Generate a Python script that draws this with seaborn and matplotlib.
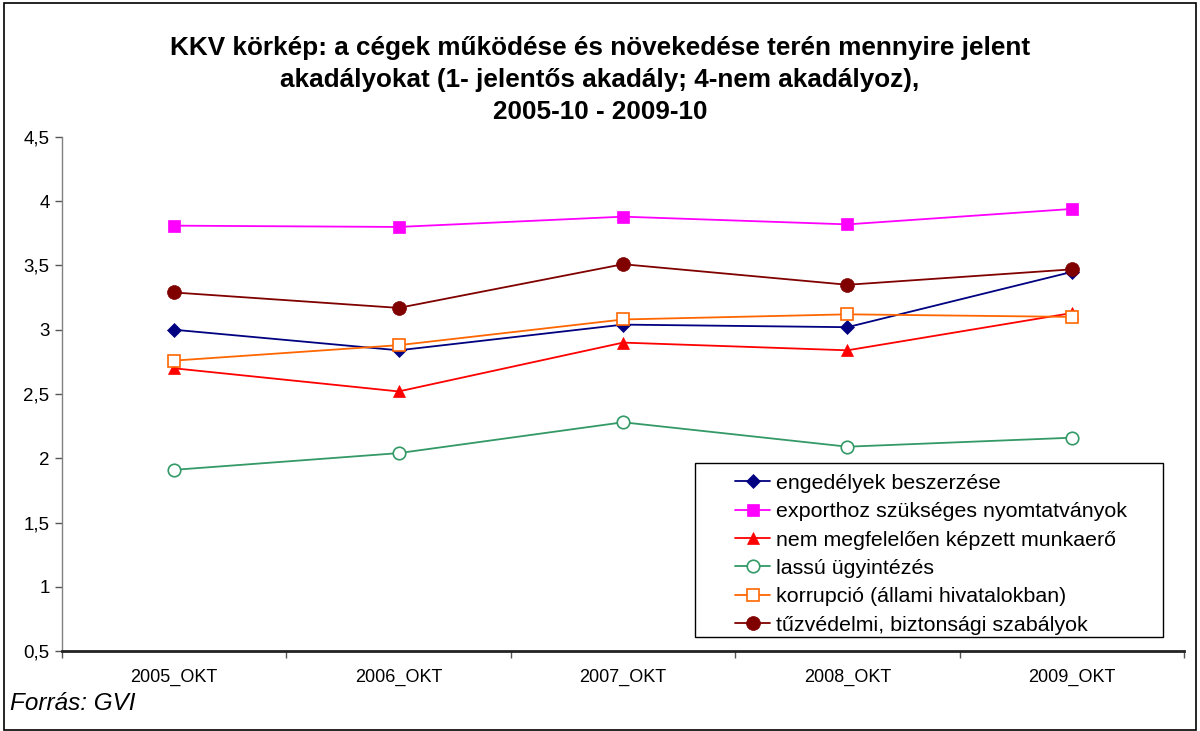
import matplotlib
matplotlib.use("Agg")
import matplotlib.pyplot as plt
import seaborn as sns
import pandas as pd
from matplotlib.patches import Rectangle
from matplotlib.ticker import FixedLocator, FuncFormatter

years = ['2005_OKT', '2006_OKT', '2007_OKT', '2008_OKT', '2009_OKT']

engedelyek = [3.00, 2.84, 3.04, 3.02, 3.45]
export = [3.81, 3.80, 3.88, 3.82, 3.94]
munkaero = [2.70, 2.52, 2.90, 2.84, 3.13]
lassu = [1.91, 2.04, 2.28, 2.09, 2.16]
korrupcio = [2.76, 2.88, 3.08, 3.12, 3.10]
tuzvedelmi = [3.29, 3.17, 3.51, 3.35, 3.47]

series = [
    ('engedélyek beszerzése', engedelyek, '#000080', 'D', True, 7),
    ('exporthoz szükséges nyomtatványok', export, '#FF00FF', 's', True, 8),
    ('nem megfelelően képzett munkaerő', munkaero, '#FF0000', '^', True, 9),
    ('lassú ügyintézés', lassu, '#339966', 'o', False, 9),
    ('korrupció (állami hivatalokban)', korrupcio, '#FF6600', 's', False, 9),
    ('tűzvédelmi, biztonsági szabályok', tuzvedelmi, '#800000', 'o', True, 10),
]

sns.set_theme(style="white")
plt.rcParams['font.family'] = ['Liberation Sans', 'DejaVu Sans']
plt.rcParams['text.color'] = 'black'

fig = plt.figure(figsize=(12, 7.31), dpi=100)
ax = fig.add_axes([0.0517, 0.1094, 0.935, 0.7032])

for name, vals, color, marker, filled, ms in series:
    df = pd.DataFrame({'x': range(len(years)), 'y': vals})
    sns.lineplot(data=df, x='x', y='y', ax=ax, color=color, linewidth=1.3,
                 marker=marker, markersize=ms,
                 markerfacecolor=color if filled else 'white',
                 markeredgecolor=color, markeredgewidth=1.2 if not filled else 0.5,
                 label=name)

ax.set_xlim(-0.5, 4.5)
ax.set_ylim(0.5, 4.5)
ax.set_yticks([0.5, 1, 1.5, 2, 2.5, 3, 3.5, 4, 4.5])
ax.yaxis.set_major_formatter(FuncFormatter(lambda v, p: ('%g' % v).replace('.', ',')))
ax.set_xticks(range(len(years)))
ax.set_xticklabels(years)
ax.xaxis.set_minor_locator(FixedLocator([i - 0.5 for i in range(len(years) + 1)]))
ax.tick_params(axis='x', which='major', length=0, pad=13, labelsize=13, colors='black')
ax.tick_params(axis='x', which='minor', length=5, width=1, color='#555555', direction='out', bottom=True)
ax.tick_params(axis='y', length=5, width=1, color='#555555', direction='out', left=True,
               labelsize=13.5, colors='black', pad=4)
ax.set_xlabel('')
ax.set_ylabel('')

for s in ['top', 'right']:
    ax.spines[s].set_visible(False)
ax.spines['left'].set_color('#808080')
ax.spines['left'].set_linewidth(1)
ax.spines['bottom'].set_color('#222222')
ax.spines['bottom'].set_linewidth(2)

# legend without its own frame; box drawn separately to match the wide padding
leg = ax.legend(loc='upper left', bbox_to_anchor=(0.5998, 0.345), fontsize=15.4,
                frameon=False, borderpad=0, borderaxespad=0,
                handlelength=1.65, labelspacing=0.44, handletextpad=0.25)
for t in leg.get_texts():
    t.set_color('black')
ax.add_patch(Rectangle((0.564, 0.027), 0.417, 0.339, transform=ax.transAxes,
                       fill=True, facecolor='white', edgecolor='black', linewidth=1, zorder=4))
leg.set_zorder(5)

fig.text(0.5, 0.891, 'KKV körkép: a cégek működése és növekedése terén mennyire jelent\n'
         'akadályokat (1- jelentős akadály; 4-nem akadályoz),\n2005-10 - 2009-10',
         ha='center', va='center', fontsize=18.8, fontweight='bold', linespacing=1.43,
         color='black')

fig.text(0.008, 0.038, 'Forrás: GVI', fontsize=17.5, style='italic', ha='left', va='center',
         color='black')

fig.patches.append(Rectangle((0.003, 0.002), 0.994, 0.994, transform=fig.transFigure,
                             fill=False, edgecolor='black', linewidth=1.2))

fig.savefig('out.png', dpi=100)
